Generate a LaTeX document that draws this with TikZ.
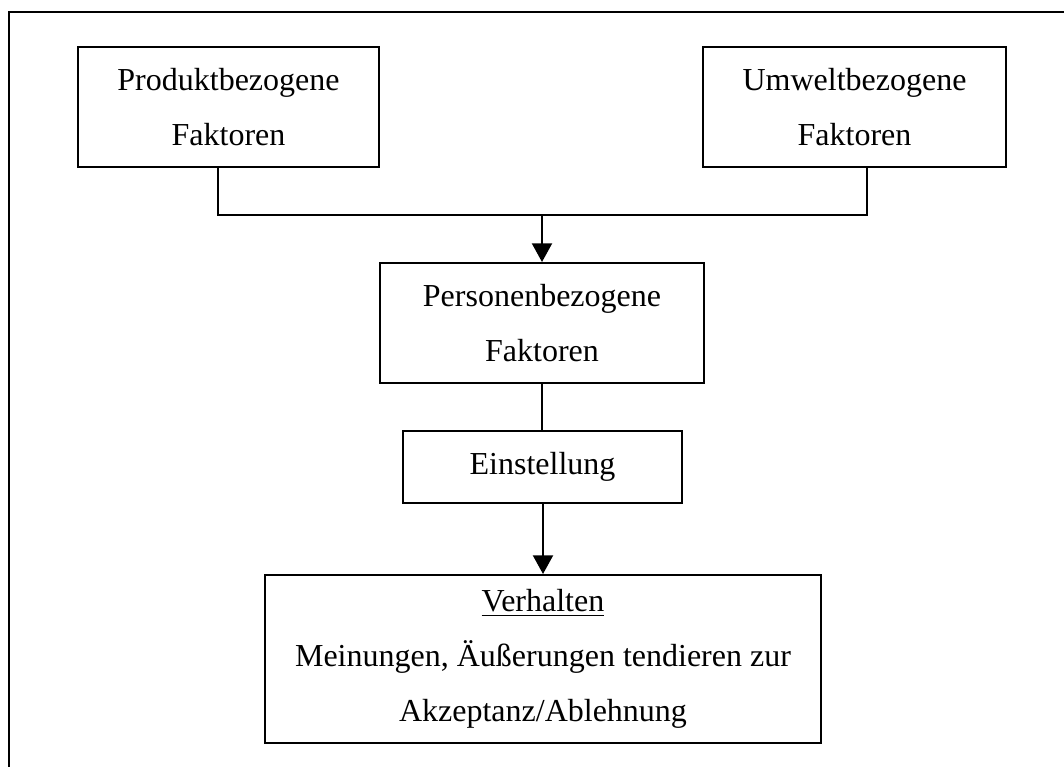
\documentclass[tikz,border=0pt]{standalone}
\usepackage{fontspec}
\setmainfont{Liberation Serif}
\usepackage{tikz}
\usetikzlibrary{arrows.meta}

\tikzset{
    factorbox/.style={draw,line width=0.75pt,inner sep=0pt,align=center,
        font=\fontsize{12}{20.6}\selectfont},
    arr/.style={-{Triangle[length=7pt,width=7.5pt]}}
}

\begin{document}
\begin{tikzpicture}[x=0.375pt,y=-0.375pt,line width=0.75pt]
        \useasboundingbox (0,0) rectangle (1064,767);
        % frame (only top and left edge visible)
        \draw (9,767) -- (9,11.5) -- (1064,11.5);
        % factor boxes
        \node[factorbox,minimum width=113pt,minimum height=45pt] (prod) at (228.5,107) {Produktbezogene\\Faktoren};
        \node[factorbox,minimum width=113.6pt,minimum height=45pt] (umwelt) at (854.5,107) {Umweltbezogene\\Faktoren};
        \node[factorbox,minimum width=121.5pt,minimum height=45pt] (pers) at (542,323) {Personenbezogene\\Faktoren};
        \node[factorbox,minimum width=104.6pt,minimum height=27pt] (einst) at (542.5,467) {Einstellung};
        \node[factorbox,minimum width=208.5pt,minimum height=63pt] (verh) at (543,659) {\underline{Verhalten}\\Meinungen, Äußerungen tendieren zur\\Akzeptanz/Ablehnung};
        % connectors
        \coordinate (join) at (542,215);
        \draw ([xshift=-4pt]prod.south) |- (join) -| ([xshift=4.7pt]umwelt.south);
        \draw[arr] (join) -- (pers.north);
        \draw (pers.south) -- (pers.south |- einst.north);
        \draw[arr] (einst.south -| verh.north) -- (verh.north);
    \end{tikzpicture}
\end{document}
